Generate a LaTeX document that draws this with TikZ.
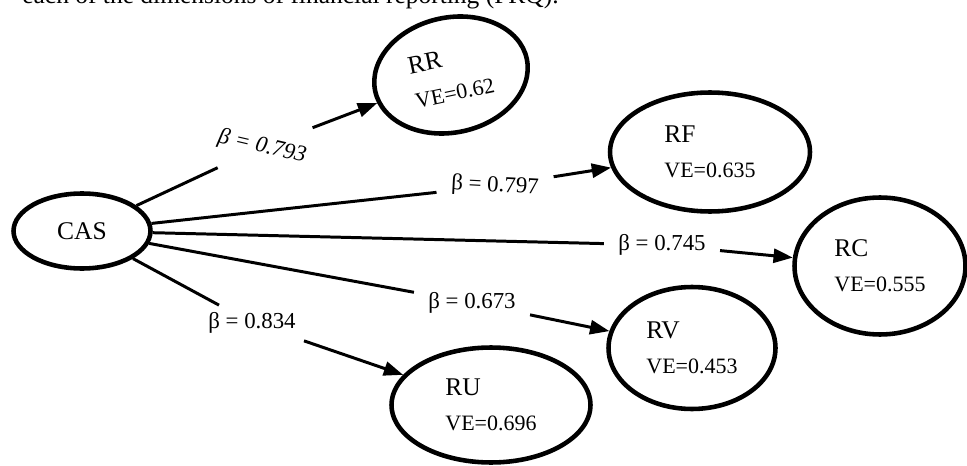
\documentclass[tikz,border=0pt]{standalone}
\usepackage{fontspec}
\setmainfont{Liberation Serif}
\usetikzlibrary{shapes.geometric,arrows.meta}
\newcommand{\vesize}{\fontsize{12.5}{15}\selectfont}

\begin{document}
\begin{tikzpicture}[x=0.02cm, y=-0.02cm,
    construct/.style={draw, ellipse, line width=2.6pt, inner sep=0pt, align=left, font=\fontsize{14.5}{17}\selectfont},
    coef/.style={font=\fontsize{13}{15}\selectfont, inner xsep=8pt, inner ysep=4pt},
    link/.style={line width=1.7pt},
    effect/.style={line width=1.7pt, -{Triangle[length=11pt,width=8pt]}}]
    \useasboundingbox (0,0) rectangle (967,466);

    % Caption line cut off at the top
    \node[anchor=base west, inner sep=0pt, font=\fontsize{14.5}{17}\selectfont] (caption) at (22,4) {each of the dimensions of financial reporting (FRQ).};

    % Exogenous construct
    \node[construct, minimum width=2.74cm, minimum height=1.5cm] (cas) at (82,231) {CAS};

    % Dimensions of FRQ
    \node[construct, minimum width=3.1cm, minimum height=2.3cm, rotate=12] (rr) at (451,75) {RR\\[3pt]\vesize VE=0.62};
    \node[construct, minimum width=4.0cm, minimum height=2.38cm] (rf) at (710,152) {RF\\[3pt]\vesize VE=0.635};
    \node[construct, minimum width=3.42cm, minimum height=2.74cm] (rc) at (880,266) {RC\\[3pt]\vesize VE=0.555};
    \node[construct, minimum width=3.34cm, minimum height=2.44cm] (rv) at (692,348) {RV\\[3pt]\vesize VE=0.453};
    \node[construct, minimum width=3.98cm, minimum height=2.3cm] (ru) at (491,405) {RU\\[3pt]\vesize VE=0.696};

    % Path coefficients
    \node[coef, rotate=-13, inner xsep=16pt, inner ysep=11pt, font=\fontsize{13}{15}\selectfont\itshape] (b1) at (262,147) {β = 0.793};
    \node[coef, rotate=-3] (b2) at (495,186) {β = 0.797};
    \node[coef] (b3) at (662,245) {β = 0.745};
    \node[coef] (b4) at (472,303) {β = 0.673};
    \node[coef] (b5) at (252,323) {β = 0.834};

    % Connections
    \draw[link] (cas) -- (b1);
    \draw[effect] (b1) -- (rr);
    \draw[link] (cas) -- (b2);
    \draw[effect] (b2) -- (rf);
    \draw[link] (cas) -- (b3);
    \draw[effect] (b3) -- (rc);
    \draw[link] (cas) -- (b4);
    \draw[effect] (b4) -- (rv);
    \draw[link] (cas) -- (b5);
    \draw[effect] (b5) -- (ru);
\end{tikzpicture}
\end{document}
